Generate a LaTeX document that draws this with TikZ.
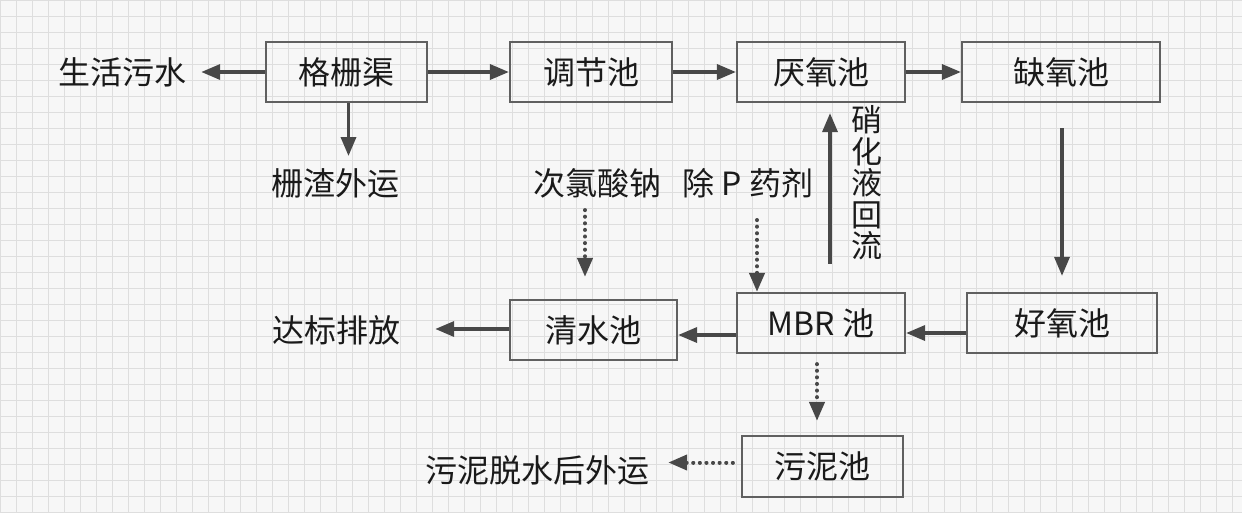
\documentclass[tikz,border=0pt]{standalone}
\usepackage{fontspec}
\setmainfont{Noto Sans CJK SC}
\usetikzlibrary{arrows.meta}
\definecolor{boxline}{HTML}{606060}
\definecolor{arrcol}{HTML}{484848}
\definecolor{txtcol}{HTML}{1A1A1A}
\definecolor{paper}{HTML}{F7F7F7}
\definecolor{gridcol}{HTML}{DEDEDE}
\tikzset{
  stage/.style={draw=boxline, line width=2.2pt, minimum height=60pt, inner sep=0pt,
    text=txtcol, font=\fontsize{32}{36}\selectfont},
  lbl/.style={inner sep=0pt, text=txtcol, font=\fontsize{32}{36}\selectfont},
  arr/.style={draw=arrcol, line width=3.4pt, -{Triangle[length=19pt,width=15pt]}},
  dotarr/.style={draw=arrcol, line width=4pt, line cap=round, dash pattern=on 0.1pt off 6.5pt,
    -{Triangle[length=19pt,width=15pt]}}
}
\begin{document}
\begin{tikzpicture}[x=1pt,y=-1pt]
\useasboundingbox (0,0) rectangle (1242,512);
\fill[paper] (0,0) rectangle (1242,512);
\draw[gridcol, line width=0.6pt] (0,0) grid[step=16pt] (1242,512);

% process boxes
\node[stage, minimum width=161pt] (gsq) at (346.5,72) {格栅渠};
\node[stage, minimum width=162pt] (tjc) at (591,72) {调节池};
\node[stage, minimum width=168pt] (yyc) at (821,72) {厌氧池};
\node[stage, minimum width=198pt] (qyc) at (1061,72) {缺氧池};
\node[stage, minimum width=190pt] (hyc) at (1062,323) {好氧池};
\node[stage, minimum width=168pt] (mbr) at (821,323) {MBR 池};
\node[stage, minimum width=167pt] (qsc) at (593.5,330) {清水池};
\node[stage, minimum width=161pt, minimum height=61pt] (wnc) at (822.5,466.5) {污泥池};

% labels
\node[lbl] (shws) at (122,72) {生活污水};
\node[lbl] (zzwy) at (335,183) {栅渣外运};
\node[lbl] (clsn) at (597,183) {次氯酸钠};
\node[lbl] (cpyj) at (748,183) {除 P 药剂};
\node[lbl, align=center, font=\fontsize{31}{31.5}\selectfont] (xhy) at (867,183) {硝\\化\\液\\回\\流};
\node[lbl] (dbpf) at (336,330) {达标排放};
\node[lbl] (wntx) at (537,470) {污泥脱水后外运};

% connectors
\draw[arr, shorten >=15pt] (gsq.west) -- (shws.east);
\draw[arr, shorten >=12pt] ([xshift=2pt]gsq.south) -- ([xshift=2pt]gsq.south |- zzwy.north);
\draw[arr] (gsq.east) -- (tjc.west);
\draw[arr] (tjc.east) -- (yyc.west);
\draw[arr] (yyc.east) -- (qyc.west);
\draw[arr, shorten <=25pt, shorten >=16pt] ([xshift=1pt]qyc.south) -- ([xshift=1pt]qyc.south |- hyc.north);
\draw[arr] ([yshift=-10pt]hyc.west) -- ([yshift=-10pt]mbr.east);
\draw[arr] ([yshift=-12pt]mbr.west) -- ([yshift=-5pt]qsc.east);
\draw[arr, shorten >=35pt] ([yshift=1pt]qsc.west) -- ([yshift=1pt]qsc.west -| dbpf.east);
\draw[dotarr, shorten <=12pt, shorten >=22pt] (clsn.south -| 585,0) -- (qsc.north -| 585,0);
\draw[dotarr, shorten <=22pt] (cpyj.south -| 757,0) -- (mbr.north -| 757,0);
\draw[arr, shorten <=28pt, shorten >=10pt] (mbr.north -| 830,0) -- (yyc.south -| 830,0);
\draw[dotarr, shorten <=10pt, shorten >=14pt] (mbr.south -| 817,0) -- (wnc.north -| 817,0);
\draw[dotarr, shorten <=8pt, shorten >=19pt] ([yshift=4pt]wnc.west) -- ([yshift=4pt]wnc.west -| wntx.east);
\end{tikzpicture}
\end{document}
